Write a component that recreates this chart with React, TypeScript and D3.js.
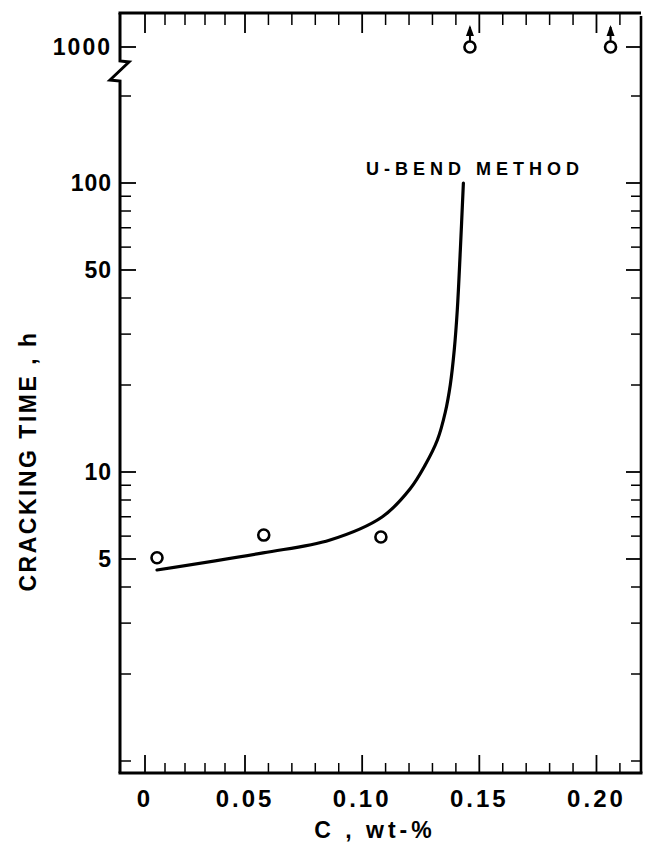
import React from 'react';
import * as d3 from 'd3';

// Data points (C wt-%, cracking time h); last two are run-outs (> 1000 h)
const carbon = [0.006, 0.058, 0.108, 0.146, 0.206];
const crackTime = [5.05, 6.05, 5.96, 1000, 1000];
const runout = [false, false, false, true, true];

// U-bend method curve
const curveC = [0.006, 0.0577, 0.0863, 0.1085, 0.1205, 0.1269, 0.1321, 0.1355, 0.1376, 0.1393, 0.1406, 0.1419, 0.1432];
const curveT = [4.58, 5.25, 5.82, 6.99, 8.75, 10.57, 12.9, 16.13, 20.0, 26.43, 36.36, 58.65, 100];

const xMajorTicks = [0, 0.05, 0.1, 0.15, 0.2];
const xTickLabels = ['0', '0.05', '0.10', '0.15', '0.20'];
const xMinorTicks = [0.01, 0.02, 0.03, 0.04, 0.06, 0.07, 0.08, 0.09, 0.11, 0.12, 0.13, 0.14, 0.16, 0.17, 0.18, 0.19, 0.21];

const yMajorTicks = [5, 10, 50, 100];
const yTickLabels = ['5', '10', '50', '100'];
const yMinorTicks = [1, 2, 3, 4, 6, 7, 8, 9, 20, 30, 40, 60, 70, 80, 90, 200];
const yBreakTicks = [1000];
const yBreakLabels = ['1000'];

const curveLabel = 'U-BEND METHOD';
const xTitle = 'C , wt-%';
const yTitle = 'CRACKING TIME , h';

const W = 645;
const H = 843;
const L = 120;
const R = 641;
const T = 13;
const B = 773;

export default function App() {
  const x = d3.scaleLinear().domain([-0.0125, 0, 0.05, 0.219]).range([L, 145, 245, R]);
  const yLow = d3.scaleLog().domain([1, 100]).range([761, 183]);
  const yHigh = d3.scaleLog().domain([1000, 10000]).range([47, -242]);
  const y = (v: number) => (v >= 1000 ? yHigh(v) : yLow(v));

  const curvePts: [number, number][] = curveC.map((c, i) => [c, curveT[i]]);
  const line = d3
    .line<[number, number]>()
    .x((d) => x(d[0]))
    .y((d) => y(d[1]))
    .curve(d3.curveCatmullRom.alpha(0.5));

  const font = "'Liberation Sans', Arial, sans-serif";
  const ink = '#000';

  const leftAxis = `M${L},${T} V61 L${L + 9},62 L${L - 10},80 L${L},81 V${B}`;

  return (
    <svg
      width={W}
      height={H}
      style={{ position: 'absolute', left: 0, top: 0, background: '#fff' }}
      fontFamily={font}
    >
      <rect x={0} y={0} width={W} height={H} fill="#fff" />
      {/* frame */}
      <path d={leftAxis} fill="none" stroke={ink} strokeWidth={3} strokeLinejoin="miter" />
      <line x1={L - 1.5} x2={R} y1={T} y2={T} stroke={ink} strokeWidth={3} />
      <line x1={L - 1.5} x2={R + 1.5} y1={B} y2={B} stroke={ink} strokeWidth={3} />
      <line x1={R} x2={R} y1={T + 3} y2={B} stroke={ink} strokeWidth={2.6} />

      {/* x ticks bottom & top */}
      {xMajorTicks.map((v) => (
        <g key={'xM' + v}>
          <line x1={x(v)} x2={x(v)} y1={B} y2={B - 18} stroke={ink} strokeWidth={1.8} />
          <line x1={x(v)} x2={x(v)} y1={T} y2={T + 20} stroke={ink} strokeWidth={1.8} />
        </g>
      ))}
      {xMinorTicks.map((v) => (
        <g key={'xm' + v}>
          <line x1={x(v)} x2={x(v)} y1={B} y2={B - 10} stroke={ink} strokeWidth={1.5} />
          <line x1={x(v)} x2={x(v)} y1={T} y2={T + 12} stroke={ink} strokeWidth={1.5} />
        </g>
      ))}

      {/* y ticks left & right */}
      {[...yMajorTicks, ...yBreakTicks].map((v) => (
        <g key={'yM' + v}>
          <line x1={L} x2={L + 16} y1={y(v)} y2={y(v)} stroke={ink} strokeWidth={1.8} />
          <line x1={R} x2={R - 15} y1={y(v)} y2={y(v)} stroke={ink} strokeWidth={1.8} />
        </g>
      ))}
      {yMinorTicks.map((v) => (
        <g key={'ym' + v}>
          <line x1={L} x2={L + 11} y1={y(v)} y2={y(v)} stroke={ink} strokeWidth={1.5} />
          <line x1={R} x2={R - 10} y1={y(v)} y2={y(v)} stroke={ink} strokeWidth={1.5} />
        </g>
      ))}

      {/* y tick labels */}
      {yMajorTicks.map((v, i) => (
        <text
          key={'yl' + v}
          x={112}
          y={y(v)}
          textAnchor="end"
          dominantBaseline="central"
          fontSize={23}
          fontWeight="bold"
          letterSpacing={1}
        >
          {yTickLabels[i]}
        </text>
      ))}
      {yBreakTicks.map((v, i) => (
        <text
          key={'yb' + v}
          x={112}
          y={y(v)}
          textAnchor="end"
          dominantBaseline="central"
          fontSize={23}
          fontWeight="bold"
          letterSpacing={2}
        >
          {yBreakLabels[i]}
        </text>
      ))}

      {/* x tick labels */}
      {xMajorTicks.map((v, i) => (
        <text
          key={'xl' + v}
          x={x(v)}
          y={807}
          textAnchor="middle"
          fontSize={24}
          fontWeight="bold"
          letterSpacing={3}
        >
          {xTickLabels[i]}
        </text>
      ))}

      {/* curve */}
      <path d={line(curvePts) || ''} fill="none" stroke={ink} strokeWidth={3.2} strokeLinecap="round" />
      <text x={366} y={175} fontSize={18} fontWeight="bold" letterSpacing={5}>
        {curveLabel}
      </text>

      {/* points */}
      {carbon.map((c, i) => (
        <g key={'p' + i}>
          <circle cx={x(c)} cy={y(crackTime[i])} r={5.5} fill="#fff" stroke={ink} strokeWidth={2.6} />
          {runout[i] && (
            <g>
              <line x1={x(c)} x2={x(c)} y1={y(crackTime[i]) - 6} y2={y(crackTime[i]) - 20} stroke={ink} strokeWidth={2} />
              <path
                d={`M${x(c) - 4},${y(crackTime[i]) - 11} L${x(c) + 4},${y(crackTime[i]) - 11} L${x(c)},${y(crackTime[i]) - 22} Z`}
                fill={ink}
              />
            </g>
          )}
        </g>
      ))}

      {/* axis titles */}
      <text x={375} y={838} textAnchor="middle" fontSize={23} fontWeight="bold" letterSpacing={4}>
        {xTitle}
      </text>
      <text
        transform="translate(36,461) rotate(-90)"
        textAnchor="middle"
        fontSize={23}
        fontWeight="bold"
        letterSpacing={2.5}
      >
        {yTitle}
      </text>
    </svg>
  );
}
